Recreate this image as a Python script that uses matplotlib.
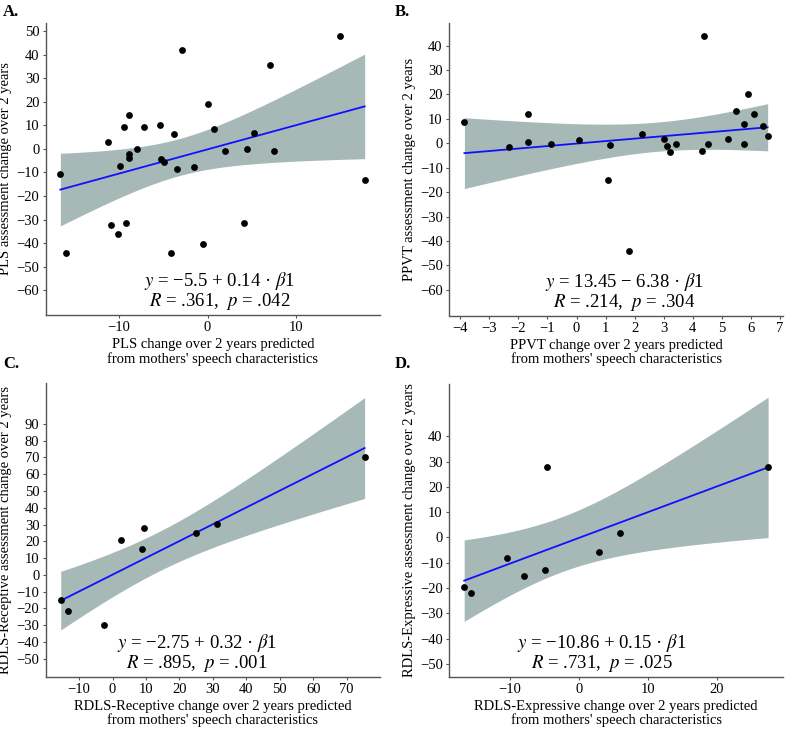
import numpy as np
import matplotlib
matplotlib.use("Agg")
import matplotlib.pyplot as plt

plt.rcParams['font.family'] = ['Liberation Serif', 'DejaVu Serif']
plt.rcParams['mathtext.fontset'] = 'stix'

# ---------------- data ----------------
pls_x = [-16.64, -11.28, -9.89, -9.40, -8.91, -8.91, -8.91, -7.96, -7.17, -5.40,
         -5.21, -4.94, -3.74, -3.43, -2.91, -1.58, 0.08, 0.75, 1.92, 4.42,
         5.25, 7.06, 7.51, 14.94, 17.77,
         -16.04, -10.94, -10.08, -9.21, -4.08, -0.53, 4.15]
pls_y = [-10.6, 2.8, -7.2, 9.4, 14.5, -2.0, -4.0, 0.0, 9.5, 10.2,
         -4.1, -5.5, 6.4, -8.5, 42.0, -7.5, 19.0, 8.7, -1.0, -0.1,
         6.8, 35.9, -1.0, 48.1, -13.0,
         -44.3, -32.3, -36.3, -31.5, -44.3, -40.3, -31.3]

ppvt_x = [-3.86, -2.31, -1.67, -1.67, -0.88, 0.08, 1.16, 1.07, 2.24, 3.00,
          3.10, 3.23, 3.44, 4.31, 4.39, 4.54, 5.22, 5.48, 5.76, 5.76,
          5.92, 6.12, 6.41, 6.58, 1.82]
ppvt_y = [8.9, -1.5, 11.9, 0.4, -0.4, 1.2, -0.8, -15.1, 4.0, 1.9,
          -1.2, -3.4, -0.1, -3.0, 43.9, -0.1, 1.8, 13.4, 8.0, -0.1,
          20.1, 12.0, 7.2, 2.9, -44.1]

rec_x = [-15.5, -13.4, -2.64, 2.64, 8.91, 9.31, 25.1, 31.2, 75.4]
rec_y = [-15.2, -21.4, -30.1, 20.6, 15.4, 28.1, 24.8, 30.1, 70.3]

exp_x = [-16.6, -15.65, -10.39, -7.87, -4.83, -4.64, 2.95, 5.99, 27.4]
exp_y = [-19.7, -21.8, -8.0, -15.3, -12.9, 28.0, -5.7, 1.6, 28.0]

letters = ['A.', 'B.', 'C.', 'D.']
xlabels = ["PLS change over 2 years predicted\nfrom mothers' speech characteristics",
           "PPVT change over 2 years predicted\nfrom mothers' speech characteristics",
           "RDLS-Receptive change over 2 years predicted\nfrom mothers' speech characteristics",
           "RDLS-Expressive change over 2 years predicted\nfrom mothers' speech characteristics"]
ylabels = ["PLS assessment change over 2 years",
           "PPVT assessment change over 2 years",
           "RDLS-Receptive assessment change over 2 years",
           "RDLS-Expressive assessment change over 2 years"]
eq_lines = ["$y$ = \u22125.5 + 0.14 \u00b7 $\\beta$1",
            "$y$ = 13.45 \u2212 6.38 \u00b7 $\\beta$1",
            "$y$ = \u22122.75 + 0.32 \u00b7 $\\beta$1",
            "$y$ = \u221210.86 + 0.15 \u00b7 $\\beta$1"]
stat_lines = ["$R$ = .361,  $p$ = .042",
              "$R$ = .214,  $p$ = .304",
              "$R$ = .895,  $p$ = .001",
              "$R$ = .731,  $p$ = .025"]
xticks_list = [[-10, 0, 10], list(range(-4, 8)), list(range(-10, 80, 10)), [-10, 0, 10, 20]]
yticks_list = [list(range(-60, 60, 10)), list(range(-60, 50, 10)),
               list(range(-50, 100, 10)), list(range(-50, 50, 10))]
xlims = [(-18.3, 19.5), (-4.39, 7.12), (-20.0, 80.0), (-18.8, 29.6)]
ylims = [(-70.6, 53.7), (-70.5, 49.4), (-60.7, 114.6), (-55.1, 60.7)]


def t975(df):
    z = 1.959964
    g1 = (z**3 + z) / 4
    g2 = (5 * z**5 + 16 * z**3 + 3 * z) / 96
    g3 = (3 * z**7 + 19 * z**5 + 17 * z**3 - 15 * z) / 384
    return z + g1 / df + g2 / df**2 + g3 / df**3


W, H = 785, 730
fig = plt.figure(figsize=(W / 100, H / 100), dpi=100)

boxes = [(45.7, 380.0, 22.7, 315.0), (449.0, 783.3, 22.7, 315.5),
         (45.7, 380.0, 382.7, 676.7), (449.0, 783.3, 384.0, 676.7)]
eq_pos = [(0.521, 0.116, 0.045), (0.524, 0.116, 0.045),
          (0.452, 0.115, 0.045), (0.457, 0.116, 0.045)]
letter_pos = [(3, 4), (395, 4), (3, 356), (395, 356)]
datasets = [(pls_x, pls_y), (ppvt_x, ppvt_y), (rec_x, rec_y), (exp_x, exp_y)]

spine_col = '#555555'
for i in range(4):
    l, r, t, b = boxes[i]
    ax = fig.add_axes([l / W, 1 - b / H, (r - l) / W, (b - t) / H])
    x = np.asarray(datasets[i][0], float)
    y = np.asarray(datasets[i][1], float)
    n = len(x)
    b1, b0 = np.polyfit(x, y, 1)
    xs = np.linspace(x.min(), x.max(), 200)
    yhat = b0 + b1 * xs
    resid = y - (b0 + b1 * x)
    s = np.sqrt(np.sum(resid**2) / (n - 2))
    se = s * np.sqrt(1 / n + (xs - x.mean())**2 / np.sum((x - x.mean())**2))
    tq = t975(n - 2)
    ax.fill_between(xs, yhat - tq * se, yhat + tq * se, color='#A6B9B7', lw=0, zorder=1)
    ax.plot(xs, yhat, color='#1010FF', lw=1.3, zorder=2)
    ax.scatter(x, y, s=24, color='black', lw=0, zorder=3)

    ax.set_xlim(*xlims[i])
    ax.set_ylim(*ylims[i])
    ax.set_xticks(xticks_list[i])
    ax.set_yticks(yticks_list[i])
    ax.set_xticklabels([str(v).replace('-', '\u2212') for v in xticks_list[i]])
    ax.set_yticklabels([str(v).replace('-', '\u2212') for v in yticks_list[i]])
    for sp in ['top', 'right']:
        ax.spines[sp].set_visible(False)
    for sp in ['left', 'bottom']:
        ax.spines[sp].set_color(spine_col)
        ax.spines[sp].set_linewidth(1.0)
    ax.tick_params(axis='both', length=2.5, width=0.8, color=spine_col,
                   labelsize=10.5, labelcolor='black', pad=2)
    ax.set_xlabel(xlabels[i], fontsize=10.5, labelpad=3, linespacing=1.05)
    ax.set_ylabel(ylabels[i], fontsize=10.5, labelpad=3)
    ex, ey1, ey2 = eq_pos[i]
    ax.text(ex, ey1, eq_lines[i], transform=ax.transAxes, ha='center', va='center', fontsize=13.5)
    ax.text(ex, ey2, stat_lines[i], transform=ax.transAxes, ha='center', va='center', fontsize=13.5)
    lx, ly = letter_pos[i]
    fig.text(lx / W, 1 - ly / H, letters[i], ha='left', va='top', fontsize=12, fontweight='bold')

fig.savefig('out.png', dpi=100)
